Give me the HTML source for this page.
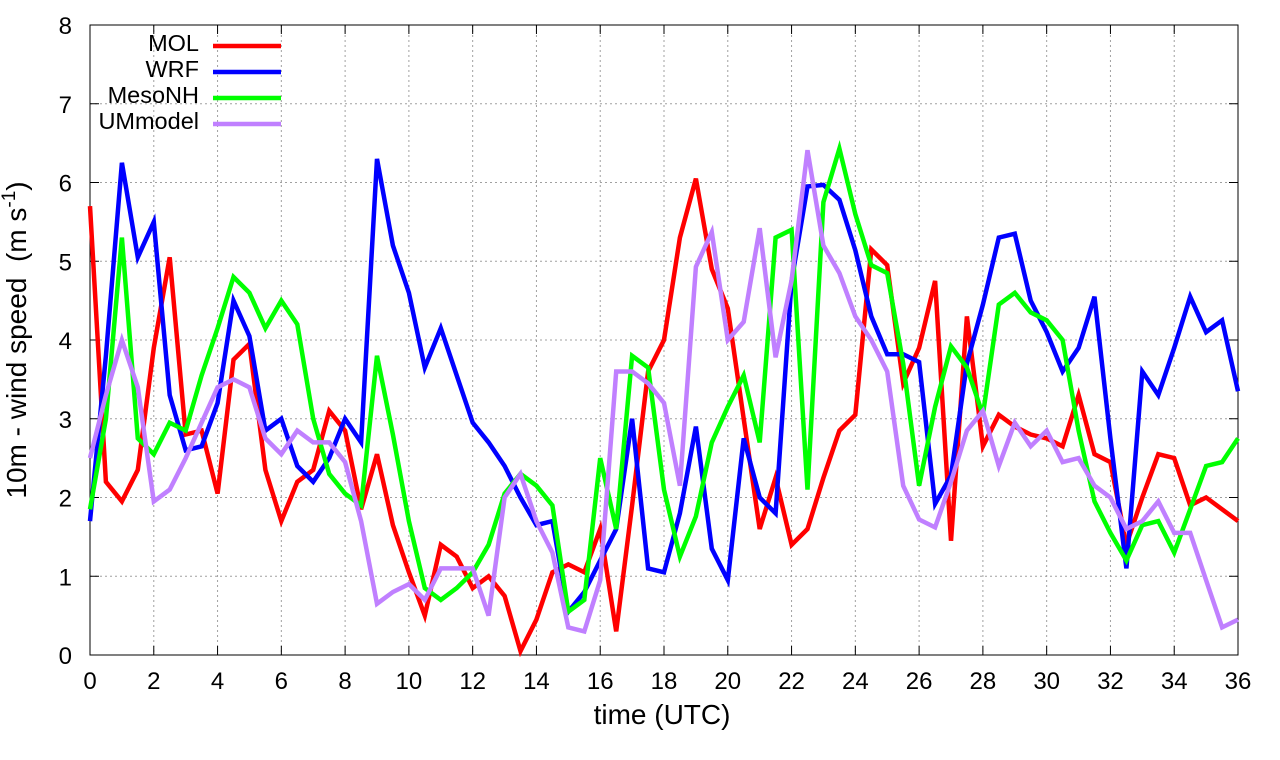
<!DOCTYPE html>
<html><head><meta charset="utf-8"><style>
html,body{margin:0;padding:0;background:#fff;}
svg{display:block;font-family:"Liberation Sans",sans-serif;}
</style></head><body>
<svg id="chart" width="1280" height="760" xmlns="http://www.w3.org/2000/svg">
<g id="grid"></g>
<g id="axes"></g>
<g id="series"></g>
<g id="legend"></g>
<text x="662" y="724" font-size="28" text-anchor="middle">time (UTC)</text>
<text transform="translate(26,340) rotate(-90)" font-size="28" text-anchor="middle" xml:space="preserve">10m - wind speed  (m s<tspan font-size="19" dy="-11">-1</tspan><tspan dy="11">)</tspan></text>
</svg>
<script>
const times = [];
for (let i = 0; i <= 72; i++) times.push(i * 0.5);
const xTicks = [0,2,4,6,8,10,12,14,16,18,20,22,24,26,28,30,32,34,36];
const yTicks = [0,1,2,3,4,5,6,7,8];
const seriesNames = ["MOL","WRF","MesoNH","UMmodel"];
const seriesColors = ["#ff0000","#0000ff","#00ff00","#c080ff"];
const molValues = [5.7,2.2,1.95,2.35,3.9,5.05,2.8,2.85,2.05,3.75,3.95,2.35,1.7,2.2,2.35,3.1,2.85,1.85,2.55,1.65,1.05,0.5,1.4,1.25,0.85,1.0,0.75,0.05,0.45,1.05,1.15,1.05,1.6,0.3,1.9,3.6,4.0,5.3,6.05,4.9,4.4,3.0,1.6,2.25,1.4,1.6,2.25,2.85,3.05,5.15,4.95,3.45,3.9,4.75,1.45,4.3,2.65,3.05,2.9,2.8,2.75,2.65,3.3,2.55,2.45,1.4,2.0,2.55,2.5,1.9,2.0,1.85,1.7];
const wrfValues = [1.7,3.8,6.25,5.05,5.5,3.3,2.6,2.65,3.2,4.5,4.05,2.85,3.0,2.4,2.2,2.5,3.0,2.7,6.3,5.2,4.6,3.65,4.15,3.55,2.95,2.7,2.4,2.0,1.65,1.7,0.55,0.8,1.2,1.6,3.0,1.1,1.05,1.8,2.9,1.35,0.95,2.75,2.0,1.8,4.75,5.95,5.97,5.78,5.14,4.3,3.82,3.82,3.72,1.92,2.28,3.7,4.45,5.3,5.35,4.5,4.1,3.6,3.9,4.55,2.75,1.1,3.6,3.3,3.9,4.55,4.1,4.25,3.35];
const mesoValues = [1.85,3.0,5.3,2.75,2.55,2.95,2.85,3.55,4.15,4.8,4.6,4.15,4.5,4.2,3.0,2.3,2.05,1.9,3.8,2.8,1.7,0.85,0.7,0.85,1.05,1.4,2.05,2.3,2.15,1.9,0.55,0.7,2.5,1.6,3.8,3.65,2.1,1.25,1.76,2.7,3.15,3.55,2.7,5.3,5.4,2.1,5.75,6.43,5.6,4.95,4.85,3.7,2.15,3.15,3.92,3.65,3.05,4.45,4.6,4.35,4.25,4.0,2.85,1.95,1.55,1.2,1.65,1.7,1.3,1.85,2.4,2.45,2.75];
const umValues = [2.5,3.3,4.0,3.4,1.95,2.1,2.5,2.95,3.4,3.5,3.4,2.75,2.55,2.85,2.7,2.7,2.45,1.7,0.65,0.8,0.9,0.7,1.1,1.1,1.1,0.5,2.0,2.3,1.7,1.3,0.35,0.3,0.95,3.6,3.6,3.45,3.2,2.15,4.93,5.37,4.0,4.23,5.42,3.78,4.76,6.41,5.2,4.85,4.3,4.0,3.6,2.15,1.72,1.62,2.2,2.85,3.1,2.4,2.95,2.65,2.85,2.45,2.5,2.15,2.0,1.6,1.7,1.95,1.55,1.55,0.95,0.35,0.45];
const allValues = [molValues, wrfValues, mesoValues, umValues];

const X0=90, X1=1238, Y0=655, Y1=25;
const xScale = t => X0 + (t - 0) / 36 * (X1 - X0);
const yScale = v => Y0 - (v - 0) / 8 * (Y0 - Y1);
const NS="http://www.w3.org/2000/svg";
function mk(tag, parent){const e=document.createElementNS(NS,tag);parent.appendChild(e);return e;}
const grid=document.getElementById('grid'), axes=document.getElementById('axes'), ser=document.getElementById('series'), leg=document.getElementById('legend');

xTicks.forEach(t=>{
  const x=xScale(t);
  if(t>0&&t<36){const g=mk('line',grid);
    
    
    g.setAttribute('x1',x);g.setAttribute('x2',x);g.setAttribute('y1',Y1);g.setAttribute('y2',Y0);
    g.setAttribute('stroke','#a0a0a0');g.setAttribute('stroke-dasharray','2,3');}
  [[Y0,Y0-9],[Y1,Y1+9]].forEach(p=>{const k=mk('line',axes);
    
    
    k.setAttribute('x1',x);k.setAttribute('x2',x);k.setAttribute('y1',p[0]);k.setAttribute('y2',p[1]);k.setAttribute('stroke','#000');});
  const l=mk('text',axes);
  
  
  l.setAttribute('x',x);l.setAttribute('y',Y0+34);l.setAttribute('font-size','24');l.setAttribute('text-anchor','middle');l.textContent=t;
});
yTicks.forEach(v=>{
  const y=yScale(v);
  if(v>0&&v<8){const g=mk('line',grid);
    
    
    g.setAttribute('x1',X0);g.setAttribute('x2',X1);g.setAttribute('y1',y);g.setAttribute('y2',y);
    g.setAttribute('stroke','#a0a0a0');g.setAttribute('stroke-dasharray','2,3');}
  [[X0,X0+9],[X1,X1-9]].forEach(p=>{const k=mk('line',axes);
    
    
    k.setAttribute('x1',p[0]);k.setAttribute('x2',p[1]);k.setAttribute('y1',y);k.setAttribute('y2',y);k.setAttribute('stroke','#000');});
  const l=mk('text',axes);
  
  
  l.setAttribute('x',X0-18);l.setAttribute('y',y+9);l.setAttribute('font-size','24');l.setAttribute('text-anchor','end');l.textContent=v;
});
const frame=mk('rect',axes);


frame.setAttribute('x',X0);frame.setAttribute('y',Y1);frame.setAttribute('width',X1-X0);frame.setAttribute('height',Y0-Y1);
frame.setAttribute('fill','none');frame.setAttribute('stroke','#000');

allValues.forEach((vals,i)=>{
  const p=mk('polyline',ser);
  
  
  p.setAttribute('points',vals.map((v,j)=>xScale(times[j]).toFixed(1)+','+yScale(v).toFixed(1)).join(' '));
  p.setAttribute('fill','none');p.setAttribute('stroke',seriesColors[i]);p.setAttribute('stroke-width','4.5');p.setAttribute('stroke-linejoin','miter');
  const ly=46+i*26;
  const t=mk('text',leg);
  
  
  t.setAttribute('x',199);t.setAttribute('y',ly+5);t.setAttribute('font-size','23.5');t.setAttribute('text-anchor','end');t.textContent=seriesNames[i];
  const s=mk('line',leg);
  
  
  s.setAttribute('x1',213);s.setAttribute('x2',281);s.setAttribute('y1',ly);s.setAttribute('y2',ly);s.setAttribute('stroke',seriesColors[i]);s.setAttribute('stroke-width','4.5');
});
</script>
</body></html>
